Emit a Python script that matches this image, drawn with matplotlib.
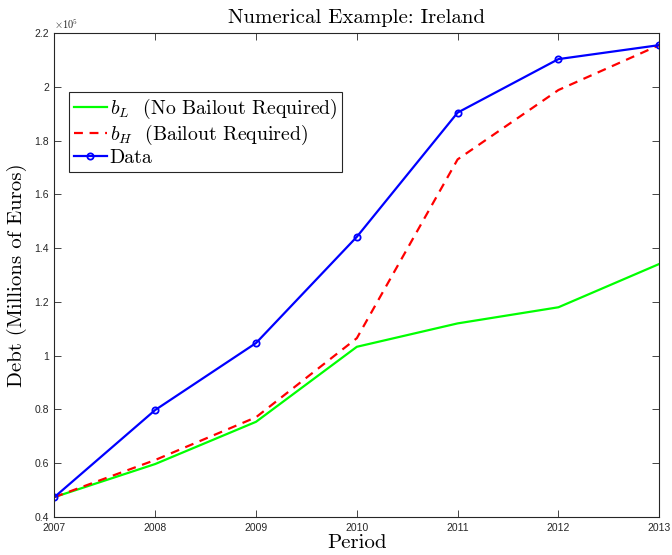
import matplotlib
matplotlib.use("Agg")
import matplotlib.pyplot as plt
from matplotlib.ticker import FuncFormatter

years = [2007, 2008, 2009, 2010, 2011, 2012, 2013]
b_low = [47400, 59700, 75400, 103300, 112000, 118000, 134100]
b_high = [47400, 61200, 77100, 106500, 173000, 198800, 215500]
data = [47400, 79800, 104700, 144200, 190400, 210300, 215500]
yticks = [40000, 60000, 80000, 100000, 120000, 140000, 160000, 180000, 200000, 220000]

plt.rcParams['mathtext.fontset'] = 'cm'
serif = 'cmr10'

fig = plt.figure(figsize=(6.72, 5.55), dpi=100)
ax = fig.add_axes([0.081, 0.0685, 0.9, 0.872])

ax.plot(years, b_low, color='#00ff00', lw=1.6, label=r'$b_L$  (No Bailout Required)')
ax.plot(years, b_high, color='#ff0000', lw=1.6, ls=(0, (4, 3)), label=r'$b_H$  (Bailout Required)')
ax.plot(years, data, color='#0000ff', lw=1.6, marker='o', ms=4.5, mfc='none', mew=1.3, label='Data')

ax.set_xlim(2007, 2013)
ax.set_ylim(40000, 220000)
ax.set_xticks(years)
ax.set_yticks(yticks)
ax.yaxis.set_major_formatter(FuncFormatter(lambda v, p: '%g' % (v / 1e5)))

for s in ax.spines.values():
    s.set_color('#262626')
    s.set_linewidth(0.8)
ax.tick_params(direction='in', top=True, right=True, length=5, width=0.6,
               colors='#262626', labelsize=7.5, labelcolor='#262626', pad=4)
for lab in ax.get_xticklabels() + ax.get_yticklabels():
    lab.set_family('Liberation Sans')

ax.text(0.0, 1.005, r'$\times10^5$', transform=ax.transAxes, fontsize=7.5,
        color='#262626', ha='left', va='bottom')

ax.set_title('Numerical Example: Ireland', family=serif, fontsize=15, pad=7)
ax.set_xlabel('Period', family=serif, fontsize=15, labelpad=1)
ax.set_ylabel('Debt (Millions of Euros)', family=serif, fontsize=15, labelpad=5)

leg = ax.legend(loc='upper left', bbox_to_anchor=(0.024, 0.878), borderaxespad=0,
                prop={'family': serif, 'size': 14.3}, fancybox=False, framealpha=1,
                edgecolor='#262626', handlelength=1.65, handletextpad=0.15,
                labelspacing=0.1, borderpad=0.25)
leg.get_frame().set_linewidth(0.8)

fig.savefig('out.png', dpi=100)
